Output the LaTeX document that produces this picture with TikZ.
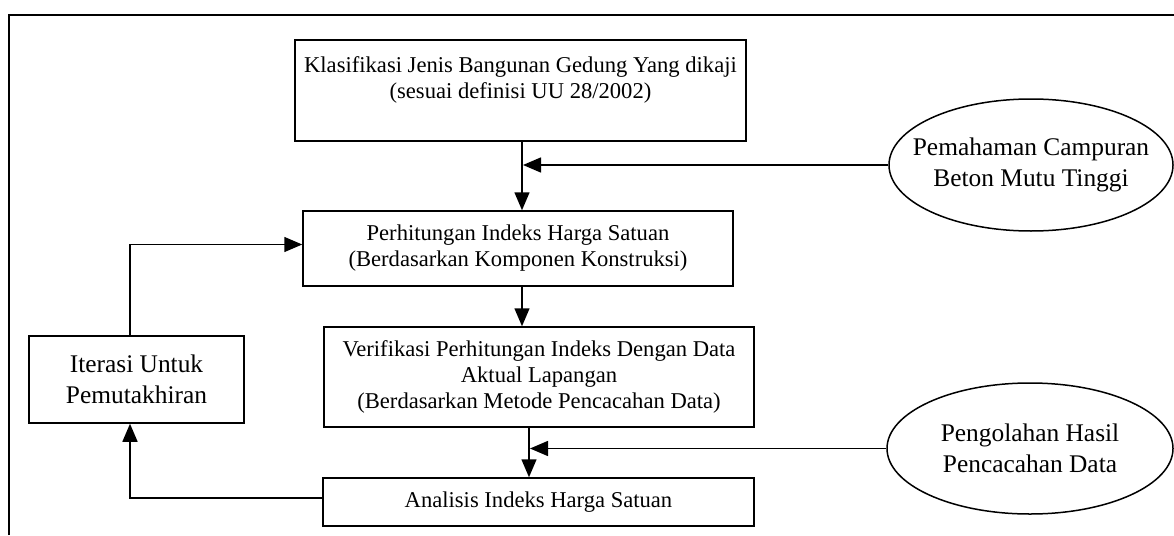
\documentclass[tikz,border=0pt]{standalone}
\usepackage{fontspec}
\setmainfont{Liberation Serif}
\usetikzlibrary{arrows.meta,shapes.geometric}
\begin{document}
\begin{tikzpicture}[x=1pt,y=-1pt,
  boxfont/.style={font=\fontsize{22.6}{26}\selectfont},
  bigfont/.style={font=\fontsize{25.4}{30.5}\selectfont},
  box/.style={draw,line width=1.5pt,inner sep=0pt,align=center,boxfont},
  itbox/.style={draw,line width=1.5pt,inner sep=0pt,align=center,bigfont},
  oval/.style={draw,line width=1.5pt,ellipse,inner sep=0pt},
  ovaltext/.style={inner sep=0pt,align=center,bigfont},
  arr/.style={line width=1.5pt,-{Triangle[length=18pt,width=15pt]}}]
\useasboundingbox (0,0) rectangle (1174,535);
% frame
\coordinate (ftl) at (9,15);
\coordinate (ftr) at (1174,15);
\coordinate (fbl) at (9,535);
\draw[line width=1.8pt] (fbl) -- (ftl) -- (ftr);
% nodes
\node[box,minimum width=451pt,minimum height=101pt] (b1) at (520.5,90.5)
  {Klasifikasi Jenis Bangunan Gedung Yang dikaji\\(sesuai definisi UU 28/2002)\\ \mbox{}};
\node[box,minimum width=430pt,minimum height=75pt] (b2) at (518,248.5)
  {Perhitungan Indeks Harga Satuan\\(Berdasarkan Komponen Konstruksi)};
\node[box,minimum width=430pt,minimum height=100pt] (b3) at (539,377)
  {Verifikasi Perhitungan Indeks Dengan Data\\Aktual Lapangan\\(Berdasarkan Metode Pencacahan Data)};
\node[box,minimum width=431pt,minimum height=48pt] (b4) at (538.5,502)
  {Analisis Indeks Harga Satuan};
\node[itbox,minimum width=215pt,minimum height=87pt] (it) at (136.5,379.5)
  {Iterasi Untuk\\Pemutakhiran};
\node[oval,minimum width=284pt,minimum height=132pt] (e1) at (1031,165) {};
\node[ovaltext] (t1) at (e1.center) {Pemahaman Campuran\\Beton Mutu Tinggi};
\node[oval,minimum width=286pt,minimum height=131pt] (e2) at (1030,448.5) {};
\node[ovaltext] (t2) at (e2.center) {Pengolahan Hasil\\Pencacahan Data};
% helper coordinates
\coordinate (x1) at (522,0);
\coordinate (x3) at (529,0);
\coordinate (xi) at (130,0);
% connectors
\draw[arr] (b1.south -| x1) -- (b2.north -| x1);
\draw[arr] (e1.west) -- ([xshift=1pt]x1 |- e1.west);
\draw[arr] (b2.south -| x1) -- (b3.north -| x1);
\draw[arr] (b3.south -| x3) -- (b4.north -| x3);
\draw[arr] (e2.west) -- ([xshift=1pt]x3 |- e2.west);
\draw[arr] ([yshift=4pt]b4.west) -| (xi |- it.south);
\draw[arr] (xi |- it.north) |- ([yshift=4pt]b2.west);
\end{tikzpicture}
\end{document}
